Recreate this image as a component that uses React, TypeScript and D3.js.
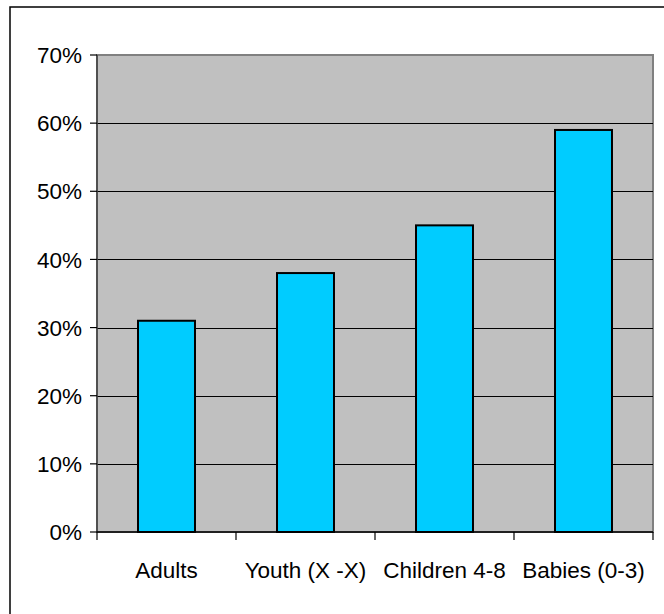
import React from "react";
import * as d3 from "d3";

const categories = ["Adults", "Youth (X -X)", "Children 4-8", "Babies (0-3)"];
const values = [0.31, 0.38, 0.45, 0.59];
const yTicks = [0, 0.1, 0.2, 0.3, 0.4, 0.5, 0.6, 0.7];

const W = 664;
const H = 614;
const plot = { left: 97, right: 653, top: 55, bottom: 532 };
const FONT = "'Liberation Sans', Arial, sans-serif";

export default function App() {
  const x = d3
    .scaleBand<string>()
    .domain(categories)
    .range([plot.left, plot.right])
    .paddingInner(0)
    .paddingOuter(0);
  const y = d3.scaleLinear().domain([0, 0.7]).range([plot.bottom, plot.top]);
  const barW = x.bandwidth() * 0.41;
  const fmt = d3.format(".0%");

  return (
    <svg
      width={W}
      height={H}
      style={{ position: "absolute", left: 0, top: 0, background: "#fff" }}
      fontFamily={FONT}
    >
      {/* chart frame */}
      <rect x={10} y={7} width={700} height={700} fill="#fff" stroke="#000" strokeWidth={1.5} />

      {/* plot area */}
      <rect
        x={plot.left}
        y={plot.top}
        width={plot.right - plot.left}
        height={plot.bottom - plot.top}
        fill="#C0C0C0"
        stroke="#808080"
        strokeWidth={2}
      />

      {/* gridlines */}
      {yTicks
        .filter((t) => t > 0 && t < 0.7)
        .map((t) => (
          <line
            key={"g" + t}
            x1={plot.left}
            x2={plot.right}
            y1={Math.round(y(t)) + 0.5}
            y2={Math.round(y(t)) + 0.5}
            stroke="#000"
            strokeWidth={1}
          />
        ))}

      {/* bars */}
      {categories.map((c, i) => {
        const cx = (x(c) as number) + x.bandwidth() / 2;
        return (
          <rect
            key={c}
            x={cx - barW / 2}
            y={y(values[i])}
            width={barW}
            height={plot.bottom - y(values[i])}
            fill="#00CCFF"
            stroke="#000"
            strokeWidth={2}
          />
        );
      })}

      {/* y axis */}
      <line x1={plot.left} x2={plot.left} y1={plot.top} y2={plot.bottom} stroke="#404040" strokeWidth={1.5} />
      {yTicks.map((t) => (
        <g key={"y" + t}>
          <line x1={plot.left - 7} x2={plot.left} y1={y(t)} y2={y(t)} stroke="#000" strokeWidth={1.2} />
          <text
            x={plot.left - 15}
            y={y(t)}
            dy="0.36em"
            textAnchor="end"
            fontSize={22.5}
            fill="#000"
          >
            {fmt(t)}
          </text>
        </g>
      ))}

      {/* x axis */}
      <line x1={plot.left} x2={plot.right} y1={plot.bottom} y2={plot.bottom} stroke="#000" strokeWidth={1.5} />
      {[...categories.map((c) => x(c) as number), plot.right].map((px, i) => (
        <line key={"xt" + i} x1={px} x2={px} y1={plot.bottom} y2={plot.bottom + 8} stroke="#000" strokeWidth={1.2} />
      ))}
      {categories.map((c) => (
        <text
          key={"xl" + c}
          x={(x(c) as number) + x.bandwidth() / 2}
          y={578}
          textAnchor="middle"
          fontSize={22.5}
          fill="#000"
        >
          {c}
        </text>
      ))}
    </svg>
  );
}
